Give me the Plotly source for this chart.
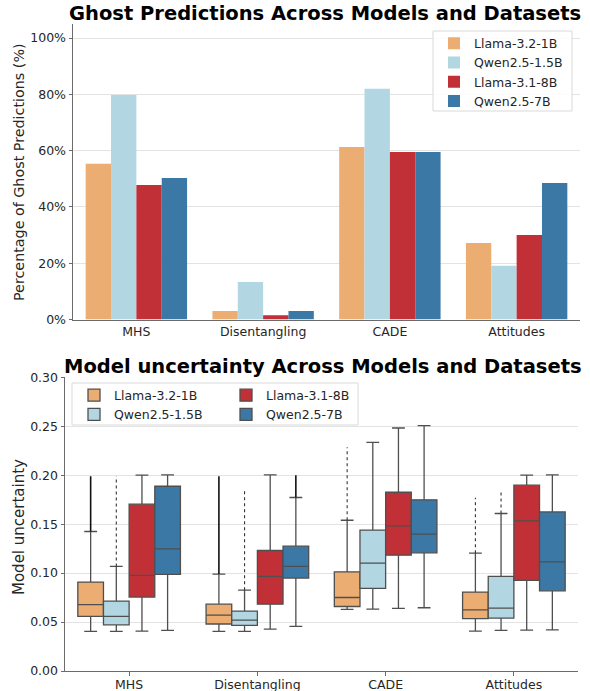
import plotly.graph_objects as go

W, H = 590, 691

# ---------------- data ----------------
datasets = ["MHS", "Disentangling", "CADE", "Attitudes"]
models = ["Llama-3.2-1B", "Qwen2.5-1.5B", "Llama-3.1-8B", "Qwen2.5-7B"]
colors = ["#EBAD72", "#B2D6E2", "#C03036", "#3B78A6"]

# Ghost prediction percentages
ghost_llama1b = [55.3, 3.0, 61.3, 27.2]
ghost_qwen15b = [79.8, 13.3, 82.0, 19.1]
ghost_llama8b = [47.8, 1.5, 59.5, 30.0]
ghost_qwen7b = [50.3, 3.0, 59.5, 48.5]
ghost = [ghost_llama1b, ghost_qwen15b, ghost_llama8b, ghost_qwen7b]

pct_ticks = [0, 20, 40, 60, 80, 100]
pct_labels = ["0%", "20%", "40%", "60%", "80%", "100%"]

# Model uncertainty box statistics (per dataset)
q1_llama1b = [0.0557, 0.0480, 0.0659, 0.0534]
med_llama1b = [0.0677, 0.0571, 0.0751, 0.0625]
q3_llama1b = [0.0908, 0.0683, 0.1013, 0.0806]
lo_llama1b = [0.0405, 0.0405, 0.0629, 0.0408]
hi_llama1b = [0.1425, 0.0990, 0.1540, 0.1204]
out_llama1b = [0.199, 0.199, 0.2285, 0.177]

q1_qwen15b = [0.0472, 0.0466, 0.0843, 0.0540]
med_qwen15b = [0.0557, 0.0520, 0.1101, 0.0643]
q3_qwen15b = [0.0714, 0.0612, 0.1439, 0.0966]
lo_qwen15b = [0.0405, 0.0405, 0.0632, 0.0414]
hi_qwen15b = [0.1068, 0.0826, 0.2336, 0.1609]
out_qwen15b = [0.199, 0.1857, None, 0.184]

q1_llama8b = [0.0755, 0.0683, 0.1183, 0.0925]
med_llama8b = [0.0976, 0.0966, 0.1482, 0.1534]
q3_llama8b = [0.1704, 0.1231, 0.1826, 0.1898]
lo_llama8b = [0.0408, 0.0428, 0.0639, 0.0418]
hi_llama8b = [0.2000, 0.2003, 0.2482, 0.2000]
out_llama8b = [None, None, None, None]

q1_qwen7b = [0.0986, 0.0949, 0.1207, 0.0819]
med_qwen7b = [0.1248, 0.1068, 0.1398, 0.1115]
q3_qwen7b = [0.1887, 0.1275, 0.1748, 0.1625]
lo_qwen7b = [0.0414, 0.0455, 0.0646, 0.0421]
hi_qwen7b = [0.2003, 0.1772, 0.2506, 0.2003]
out_qwen7b = [None, 0.2000, None, None]

# whether the outliers are dense (look like a solid line)
dense_llama1b = [True, True, False, False]
dense_qwen15b = [False, False, False, False]
dense_llama8b = [False, False, False, False]
dense_qwen7b = [False, True, False, False]

box_stats = [
    (q1_llama1b, med_llama1b, q3_llama1b, lo_llama1b, hi_llama1b, out_llama1b, dense_llama1b),
    (q1_qwen15b, med_qwen15b, q3_qwen15b, lo_qwen15b, hi_qwen15b, out_qwen15b, dense_qwen15b),
    (q1_llama8b, med_llama8b, q3_llama8b, lo_llama8b, hi_llama8b, out_llama8b, dense_llama8b),
    (q1_qwen7b, med_qwen7b, q3_qwen7b, lo_qwen7b, hi_qwen7b, out_qwen7b, dense_qwen7b),
]
unc_ticks = [0.0, 0.05, 0.10, 0.15, 0.20, 0.25, 0.30]

# ---------------- layout geometry (px) ----------------
FONT = "DejaVu Sans"
TXT = "#262626"
SPINE = "#6b6b6b"
GRID = "#e3e3e3"
BOXLINE = "#4f4f4f"
LEGBORDER = "#d9d9d9"

top_l, top_r, top_t, top_b = 73, 580, 24, 319.5
bot_l, bot_r, bot_t, bot_b = 65, 578, 377.3, 671


def px_x(p):
    return p / W


def px_y(p):
    return 1 - p / H


fig = go.Figure()

# ---------------- top: grouped bars ----------------
for j, m in enumerate(models):
    fig.add_trace(go.Bar(
        x=datasets, y=ghost[j], name=m, marker_color=colors[j],
        marker_line_width=0, xaxis="x", yaxis="y", legend="legend",
    ))

# ---------------- bottom: boxes ----------------
n = len(models)
bw = 0.8 / n
legend_rank = [1, 3, 2, 4]
for j, m in enumerate(models):
    q1, med, q3, lo, hi, out, dense = box_stats[j]
    pos = [i + (j - (n - 1) / 2) * bw for i in range(len(datasets))]
    fig.add_trace(go.Box(
        x=pos, q1=q1, median=med, q3=q3, lowerfence=lo, upperfence=hi,
        width=bw, whiskerwidth=0.5, fillcolor=colors[j],
        line=dict(color=BOXLINE, width=1.3), boxpoints=False,
        name=m, xaxis="x2", yaxis="y2",
        legend="legend2" if j < 2 else "legend3", legendrank=legend_rank[j],
        hoverinfo="skip",
    ))
    # outlier extents (dense and sparse)
    for dflag, style in ((True, dict(color="#111111", width=1.6, dash="solid")),
                         (False, dict(color="#333333", width=1.1, dash="dot"))):
        xs, ys = [], []
        for i in range(len(datasets)):
            if out[i] is not None and dense[i] == dflag:
                xs += [pos[i], pos[i], None]
                ys += [hi[i], out[i], None]
        if xs:
            fig.add_trace(go.Scatter(
                x=xs, y=ys, mode="lines", line=style, showlegend=False,
                xaxis="x2", yaxis="y2", hoverinfo="skip",
            ))

axis_common = dict(
    showline=True, linecolor=SPINE, linewidth=1, mirror=False,
    ticks="outside", ticklen=3.5, tickcolor=SPINE, tickwidth=1,
    tickfont=dict(family=FONT, size=12.5, color=TXT),
    zeroline=False, automargin=False,
)
axis_noticks = {k: v for k, v in axis_common.items() if k != "ticks"}

leg_font = dict(family=FONT, size=12.5, color=TXT)

fig.update_layout(
    width=W, height=H, autosize=False,
    margin=dict(l=0, r=0, t=0, b=0, pad=0, autoexpand=False),
    paper_bgcolor="white", plot_bgcolor="white",
    font=dict(family=FONT, color=TXT),
    barmode="group", bargap=0.2, bargroupgap=0,
    boxmode="overlay",
    xaxis=dict(domain=[px_x(top_l), px_x(top_r)], anchor="y",
               range=[-0.5, 3.5], showgrid=False, ticks="", **axis_noticks),
    yaxis=dict(domain=[px_y(top_b), px_y(top_t)], anchor="x",
               range=[0, 105], tickvals=pct_ticks, ticktext=pct_labels,
               showgrid=True, gridcolor=GRID, gridwidth=1.2, **axis_common),
    xaxis2=dict(domain=[px_x(bot_l), px_x(bot_r)], anchor="y2",
                range=[-0.5, 3.5], tickvals=list(range(len(datasets))),
                ticktext=datasets, showgrid=False, ticklabelstandoff=-2,
                **axis_common),
    yaxis2=dict(domain=[px_y(bot_b), px_y(bot_t)], anchor="x2",
                range=[0, 0.30], tickvals=unc_ticks, tickformat=".2f",
                showgrid=True, gridcolor=GRID, gridwidth=1.2, **axis_common),
    legend=dict(x=px_x(434), y=px_y(28.5), xanchor="left", yanchor="top",
                bgcolor="rgba(0,0,0,0)", borderwidth=0,
                font=leg_font, tracegroupgap=0),
    legend2=dict(x=px_x(74), y=px_y(380.5), xanchor="left", yanchor="top",
                 bgcolor="rgba(0,0,0,0)", borderwidth=0,
                 font=leg_font, tracegroupgap=0),
    legend3=dict(x=px_x(226), y=px_y(380.5), xanchor="left", yanchor="top",
                 bgcolor="rgba(0,0,0,0)", borderwidth=0,
                 font=leg_font, tracegroupgap=0),
    shapes=[dict(type="rect", xref="paper", yref="paper",
                 x0=px_x(433), x1=px_x(572), y0=px_y(111), y1=px_y(31),
                 line=dict(color=LEGBORDER, width=1),
                 fillcolor="rgba(255,255,255,0.85)", layer="above"),
            dict(type="rect", xref="paper", yref="paper",
                 x0=px_x(72), x1=px_x(358), y0=px_y(425), y1=px_y(383),
                 line=dict(color=LEGBORDER, width=1),
                 fillcolor="rgba(255,255,255,0.85)", layer="above")],
    annotations=[
        dict(text="<b>Ghost Predictions Across Models and Datasets</b>",
             x=px_x(325), y=px_y(14), xref="paper", yref="paper",
             showarrow=False, font=dict(family=FONT, size=19.5, color="#000000"),
             xanchor="center", yanchor="middle"),
        dict(text="<b>Model uncertainty Across Models and Datasets</b>",
             x=px_x(323), y=px_y(366), xref="paper", yref="paper",
             showarrow=False, font=dict(family=FONT, size=19.5, color="#000000"),
             xanchor="center", yanchor="middle"),
        dict(text="Percentage of Ghost Predictions (%)", textangle=-90,
             x=px_x(19), y=px_y(172), xref="paper", yref="paper",
             showarrow=False, font=dict(family=FONT, size=14.3, color=TXT),
             xanchor="center", yanchor="middle"),
        dict(text="Model uncertainty", textangle=-90,
             x=px_x(19), y=px_y(527), xref="paper", yref="paper",
             showarrow=False, font=dict(family=FONT, size=15, color=TXT),
             xanchor="center", yanchor="middle"),
    ],
)

fig.write_html("out.html")
